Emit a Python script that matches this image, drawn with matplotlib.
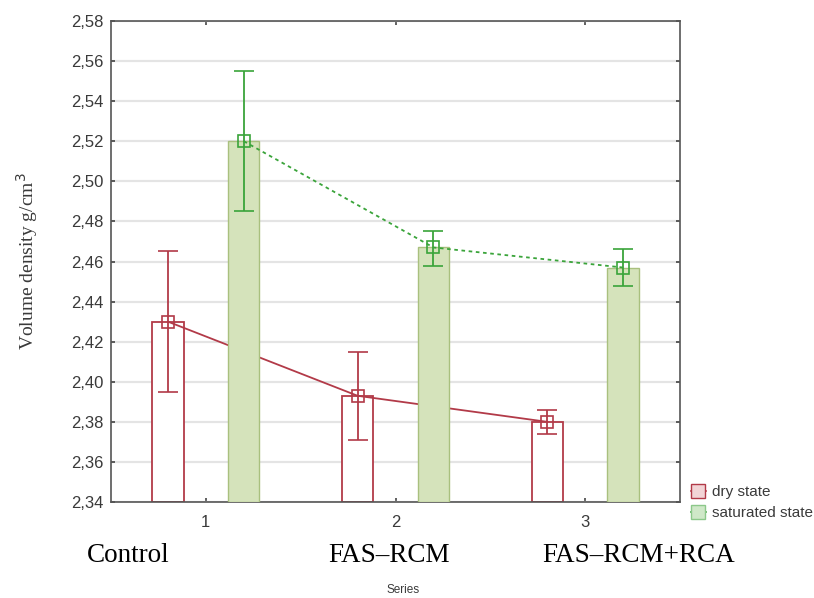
import numpy as np
import matplotlib
matplotlib.use("Agg")
import matplotlib.pyplot as plt
from matplotlib.lines import Line2D
from matplotlib.ticker import FuncFormatter

series = [1, 2, 3]
groups = ["Control", "FAS\u2013RCM", "FAS\u2013RCM+RCA"]

dry_mean = [2.430, 2.393, 2.380]
dry_low = [2.395, 2.371, 2.374]
dry_high = [2.465, 2.415, 2.386]

sat_mean = [2.520, 2.467, 2.457]
sat_low = [2.485, 2.458, 2.448]
sat_high = [2.555, 2.475, 2.466]

red = "#b23a48"
green = "#3aa43a"
bar_fill = "#d5e3bb"
bar_edge = "#a9c07e"
txt = "#3a3a3a"

x = np.array(series, dtype=float)
off = 0.2
w = 0.165

fig = plt.figure(figsize=(8.14, 5.98), dpi=100)
ax = fig.add_axes([0.1364, 0.1605, 0.699, 0.8044])

ax.set_xlim(0.5, 3.5)
ax.set_ylim(2.34, 2.58)
ax.set_yticks(np.arange(2.34, 2.5801, 0.02))
ax.set_xticks(series)
ax.yaxis.set_major_formatter(FuncFormatter(lambda v, p: f"{v:.2f}".replace(".", ",")))
ax.grid(axis="y", color="#e4e4e4", linewidth=1.6, zorder=0)
ax.set_axisbelow(True)

for s in ax.spines.values():
    s.set_color("#555555")
    s.set_linewidth(1.2)
ax.tick_params(direction="in", length=3, width=1.2, color="#444444",
               top=True, right=True, labelsize=12, labelcolor=txt)
ax.tick_params(axis="y", pad=5.5)
ax.tick_params(axis="x", pad=9)
for lab in ax.get_xticklabels() + ax.get_yticklabels():
    lab.set_family("Liberation Sans")

# dry state: hollow bars, solid connecting line
ax.bar(x - off, np.array(dry_mean) - 2.34, bottom=2.34, width=w,
       facecolor="white", edgecolor=red, linewidth=1.3, zorder=2)
dry_err = [np.array(dry_mean) - np.array(dry_low), np.array(dry_high) - np.array(dry_mean)]
ax.errorbar(x - off, dry_mean, yerr=dry_err, color=red, linewidth=1.3,
            marker="s", markersize=8, markerfacecolor="none", markeredgewidth=1.2,
            capsize=7, capthick=1.3, zorder=3)

# saturated state: filled bars, dotted connecting line
ax.bar(x + off, np.array(sat_mean) - 2.34, bottom=2.34, width=w,
       facecolor=bar_fill, edgecolor=bar_edge, linewidth=1.0, zorder=4)
sat_err = [np.array(sat_mean) - np.array(sat_low), np.array(sat_high) - np.array(sat_mean)]
ax.errorbar(x + off, sat_mean, yerr=sat_err, color=green, linewidth=1.3,
            linestyle=(0, (2, 2)), marker="s", markersize=8, markerfacecolor="none",
            markeredgewidth=1.2, capsize=7, capthick=1.3, zorder=5)

ax.set_ylabel("Volume density g/cm$^3$", family="Liberation Serif",
              fontsize=14, color=txt, labelpad=22)

handles = [
    Line2D([], [], color=red, marker="s", markersize=10, markerfacecolor="#f2d4d6",
           markeredgecolor=red, linewidth=1.2),
    Line2D([], [], color=green, marker="s", markersize=10, markerfacecolor="#cfe8c8",
           markeredgecolor="#8cc88a", linewidth=1.2),
]
leg = ax.legend(handles, ["dry state", "saturated state"], loc="lower left",
                bbox_to_anchor=(1.0, -0.06), frameon=False,
                prop={"family": "Liberation Sans", "size": 11},
                handlelength=1.0, handletextpad=0.4, labelspacing=0.45,
                borderaxespad=0.3)
for t in leg.get_texts():
    t.set_color(txt)

for gx, name in zip([0.157, 0.478, 0.785], groups):
    fig.text(gx, 0.071, name, ha="center", va="center",
             family="Liberation Serif", fontsize=19.5, color="black")
fig.text(0.495, 0.003, "Series", ha="center", va="bottom",
         family="Liberation Sans", fontsize=8.5, color=txt)

fig.savefig("out.png", dpi=100)
